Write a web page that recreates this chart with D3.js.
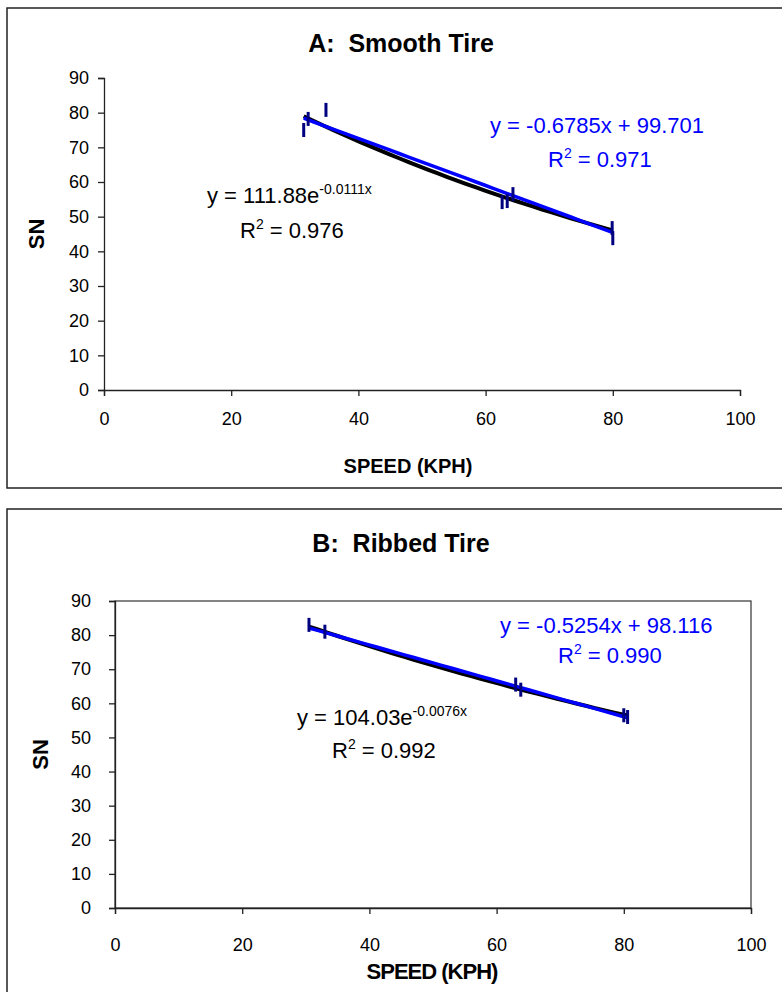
<!DOCTYPE html>
<html>
<head>
<meta charset="utf-8">
<script src="https://cdn.jsdelivr.net/npm/d3@7"></script>
<style>
  body { margin: 0; background: #fff; }
  text { font-family: "Liberation Sans", Arial, sans-serif; }
</style>
</head>
<body>
<script>
// values
var ticksX = [0, 20, 40, 60, 80, 100];
var ticksY = [0, 10, 20, 30, 40, 50, 60, 70, 80, 90];

var speedA = [31.4, 32.1, 34.9, 62.6, 63.4, 64.3, 79.9, 80.0];
var snA = [75.0, 78.2, 80.8, 54.2, 54.5, 56.5, 46.7, 43.8];
var linCoefA = [-0.6785, 99.701];   // slope, intercept
var expCoefA = [111.88, -0.0111];   // a, b  (a * e^(b x))
var r2A = ["0.971", "0.976"];

var speedB = [30.5, 33.0, 63.0, 63.8, 80.0, 80.6];
var snB = [83.0, 81.0, 65.5, 64.0, 56.5, 56.0];
var linCoefB = [-0.5254, 98.116];
var expCoefB = [104.03, -0.0076];
var r2B = ["0.990", "0.992"];

var svg = d3.select("body").append("svg")
    .attr("width", 782)
    .attr("height", 992);

// outer frames of the two charts
svg.append("rect").attr("x", 7).attr("y", 8).attr("width", 800).attr("height", 480)
    .attr("fill", "none").attr("stroke", "#222").attr("stroke-width", 1.5);
svg.append("rect").attr("x", 7).attr("y", 509).attr("width", 800).attr("height", 520)
    .attr("fill", "none").attr("stroke", "#222").attr("stroke-width", 1.5);

drawPanel({
    title: "A:  Smooth Tire", titleY: 52,
    left: 104, right: 740, top: 78, bottom: 390, box: false,
    speed: speedA, sn: snA, lin: linCoefA, exp: expCoefA, r2: r2A,
    yLabelOffset: 15, snX: 36, xTickY: 426, xTitleX: 408, xTitleY: 473,
    xTitleSize: 20, xTitleSpacing: 0,
    linEqX: 490, linEqY: 133, linR2X: 548, linR2Y: 167,
    expEqX: 207, expEqY: 203, expR2X: 240, expR2Y: 238
});

drawPanel({
    title: "B:  Ribbed Tire", titleY: 552,
    left: 115, right: 751, top: 601, bottom: 908, box: true,
    speed: speedB, sn: snB, lin: linCoefB, exp: expCoefB, r2: r2B,
    yLabelOffset: 24, snX: 40, xTickY: 952, xTitleX: 432, xTitleY: 979,
    xTitleSize: 22, xTitleSpacing: -1,
    linEqX: 500, linEqY: 633, linR2X: 558, linR2Y: 663,
    expEqX: 297, expEqY: 725, expR2X: 332, expR2Y: 758
});

// draws one chart panel
function drawPanel(p) {
    var x = d3.scaleLinear().domain([0, 100]).range([p.left, p.right]);
    var y = d3.scaleLinear().domain([0, 90]).range([p.bottom, p.top]);

    svg.append("text")
        .attr("x", 401)
        .attr("y", p.titleY)
        .attr("text-anchor", "middle")
        .attr("font-size", 25)
        .attr("font-weight", "bold")
        .style("white-space", "pre")
        .text(p.title);

    if (p.box) {
        svg.append("rect")
            .attr("x", p.left).attr("y", p.top)
            .attr("width", p.right - p.left).attr("height", p.bottom - p.top)
            .attr("fill", "none").attr("stroke", "#333").attr("stroke-width", 1.2);
    }

    var yAxis = svg.append("g")
        .attr("transform", "translate(" + p.left + ",0)")
        .call(d3.axisLeft(y).tickValues(ticksY).tickSize(6).tickPadding(p.yLabelOffset - 6));
    var xAxis = svg.append("g")
        .attr("transform", "translate(0," + p.bottom + ")")
        .call(d3.axisBottom(x).tickValues(ticksX).tickSize(6).tickPadding(p.xTickY - p.bottom - 20));

    [yAxis, xAxis].forEach(function (ax) {
        ax.select(".domain").attr("stroke", "#222").attr("stroke-width", 1.3);
        ax.selectAll(".tick line").attr("stroke", "#222").attr("stroke-width", 1.3);
        ax.selectAll(".tick text")
            .attr("font-family", "Liberation Sans, Arial, sans-serif")
            .attr("font-size", 18).attr("fill", "#000");
    });

    svg.append("text")
        .attr("transform", "translate(" + p.snX + "," + ((p.top + p.bottom) / 2) + ") rotate(-90)")
        .attr("text-anchor", "middle")
        .attr("dy", "0.35em")
        .attr("font-size", 22)
        .attr("font-weight", "bold")
        .text("SN");

    svg.append("text")
        .attr("x", p.xTitleX)
        .attr("y", p.xTitleY)
        .attr("text-anchor", "middle")
        .attr("font-size", p.xTitleSize)
        .attr("font-weight", "bold")
        .attr("letter-spacing", p.xTitleSpacing)
        .text("SPEED (KPH)");

    // trend lines over the span of the data
    var lo = d3.min(p.speed), hi = d3.max(p.speed);
    var xs = d3.range(lo, hi, 1.5).concat([hi]);
    var line = d3.line().x(function (d) { return x(d[0]); }).y(function (d) { return y(d[1]); });

    svg.append("path")
        .datum(xs.map(function (v) { return [v, p.exp[0] * Math.exp(p.exp[1] * v)]; }))
        .attr("d", line)
        .attr("fill", "none").attr("stroke", "#000").attr("stroke-width", 4);
    svg.append("path")
        .datum(xs.map(function (v) { return [v, p.lin[0] * v + p.lin[1]]; }))
        .attr("d", line)
        .attr("fill", "none").attr("stroke", "#0000ff").attr("stroke-width", 3.5);

    // dash markers
    svg.selectAll(null)
        .data(d3.zip(p.speed, p.sn))
        .enter().append("line")
        .attr("x1", function (d) { return x(d[0]); })
        .attr("x2", function (d) { return x(d[0]); })
        .attr("y1", function (d) { return y(d[1]) - 7; })
        .attr("y2", function (d) { return y(d[1]) + 7; })
        .attr("stroke", "#000080").attr("stroke-width", 3);

    // equations
    svg.append("text")
        .attr("x", p.linEqX).attr("y", p.linEqY)
        .attr("font-size", 22).attr("fill", "#0000ff")
        .text("y = " + p.lin[0] + "x + " + p.lin[1]);
    writeR2(p.linR2X, p.linR2Y, p.r2[0], "#0000ff");

    var expEq = svg.append("text")
        .attr("x", p.expEqX).attr("y", p.expEqY)
        .attr("font-size", 22).attr("fill", "#000");
    expEq.append("tspan").text("y = " + p.exp[0].toFixed(2) + "e");
    expEq.append("tspan").attr("dy", -9).attr("font-size", 14).text(p.exp[1] + "x");
    writeR2(p.expR2X, p.expR2Y, p.r2[1], "#000");
}

function writeR2(px, py, val, color) {
    var t = svg.append("text")
        .attr("x", px).attr("y", py)
        .attr("font-size", 22).attr("fill", color);
    t.append("tspan").text("R");
    t.append("tspan").attr("dy", -9).attr("font-size", 14).text("2");
    t.append("tspan").attr("dy", 9).text(" = " + val);
}
</script>
</body>
</html>
